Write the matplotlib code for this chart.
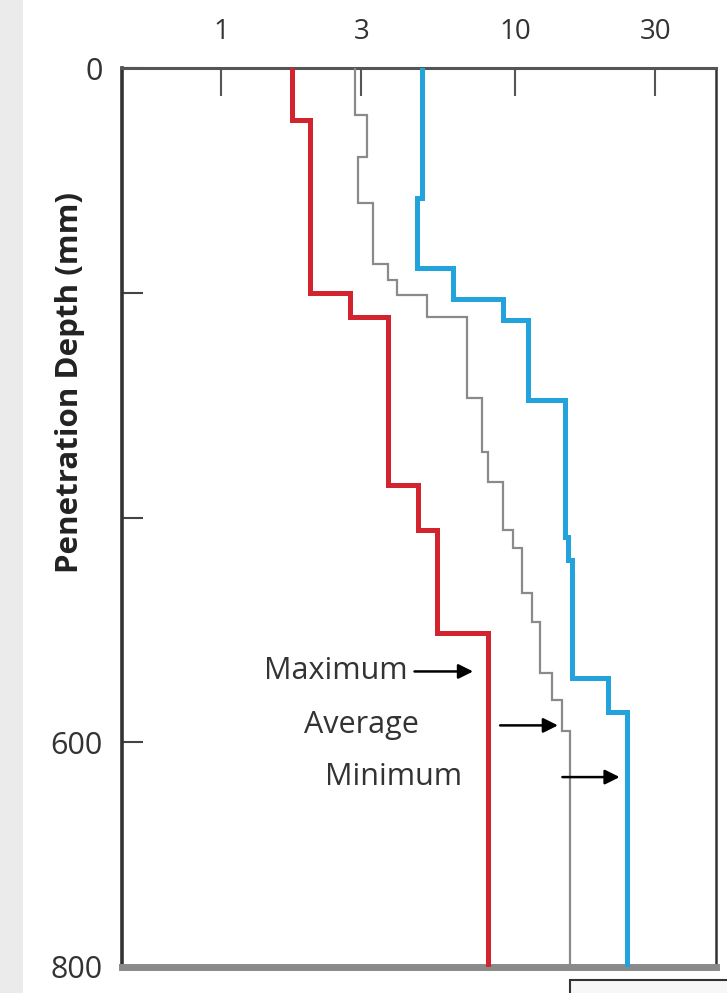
import numpy as np
import matplotlib
matplotlib.use("Agg")
import matplotlib.pyplot as plt
from matplotlib.patches import Rectangle

plt.rcParams['font.family'] = ['Open Sans', 'DejaVu Sans']

# depth boundaries (mm) and value in each depth interval
max_depth = [0, 46, 200, 222, 371, 411, 503, 800]
max_val = [1.74, 2.01, 2.75, 3.70, 4.68, 5.43, 8.09]

avg_depth = [0, 42, 79, 120, 174, 189, 202, 222, 294, 342, 368, 411, 427,
             467, 493, 538, 562, 590, 800]
avg_val = [2.86, 3.14, 2.92, 3.29, 3.70, 3.97, 5.02, 6.87, 7.72, 8.09, 9.10,
           9.85, 10.6, 11.4, 12.2, 13.4, 14.4, 15.4]

min_depth = [0, 116, 178, 206, 224, 295, 417, 438, 543, 573, 800]
min_val = [4.83, 4.64, 6.15, 9.10, 11.1, 14.8, 15.1, 15.6, 20.7, 24.0]

x_ticks = [1, 3, 10, 30]
y_ticks = [0, 200, 400, 600, 800]
y_ticklabels = ["0", "", "", "600", "800"]


def steps(depth, val):
    depth = np.asarray(depth)
    x = np.repeat(val, 2)
    y = np.column_stack([depth[:-1], depth[1:]]).ravel()
    return x, y


fig = plt.figure(figsize=(7.27, 9.93), dpi=100)
# screenshot leftovers: grey strip at left and a box at bottom right
fig.patches.append(Rectangle((0, 0), 23 / 727, 1, transform=fig.transFigure,
                             facecolor='#ebebeb', edgecolor='none', zorder=0))
fig.patches.append(Rectangle((570 / 727, -0.05), 0.3, 0.05 + 13 / 993,
                             transform=fig.transFigure, facecolor='#f7f7f7',
                             edgecolor='#333333', linewidth=1.5, zorder=0))

ax = fig.add_axes([122 / 727, 1 - 967 / 993, 594 / 727, 899 / 993])

x, y = steps(max_depth, max_val)
ax.plot(x, y, color='#d1242f', lw=3.6, solid_joinstyle='miter', zorder=3)
x, y = steps(avg_depth, avg_val)
ax.plot(x, y, color='#8a8a8a', lw=1.6, solid_joinstyle='miter', zorder=3)
x, y = steps(min_depth, min_val)
ax.plot(x, y, color='#22a3dc', lw=3.6, solid_joinstyle='miter', zorder=3)

ax.set_xscale('log')
ax.set_xlim(0.46, 48.3)
ax.set_ylim(800, 0)
ax.set_xticks(x_ticks)
ax.set_xticklabels([str(t) for t in x_ticks])
ax.minorticks_off()
ax.set_yticks(y_ticks)
ax.set_yticklabels(y_ticklabels)

ax.xaxis.tick_top()
ax.tick_params(axis='x', direction='in', length=20, width=1.5, color='#555555',
               labelsize=20, labelcolor='#333333', pad=16, top=True, bottom=False)
ax.tick_params(axis='y', direction='in', length=15, width=1.5, color='#444444',
               labelsize=22, labelcolor='#333333', pad=14)

ax.spines['top'].set_color('#555555')
ax.spines['top'].set_linewidth(2.2)
ax.spines['left'].set_color('#333333')
ax.spines['left'].set_linewidth(2.6)
ax.spines['right'].set_color('#333333')
ax.spines['right'].set_linewidth(1.8)
ax.spines['bottom'].set_color('#8a8a8a')
ax.spines['bottom'].set_linewidth(5)

ax.set_ylabel('Penetration Depth (mm)', fontsize=22.5, fontweight='bold',
              color='#222222')
ax.yaxis.set_label_coords(-0.062, 0.65)

arrow = dict(arrowstyle='-|>', color='black', lw=1.8, mutation_scale=22,
             shrinkA=0, shrinkB=0)
labels = [("Maximum", 4.3, 537, 4.55, 7.2),
          ("Average", 4.7, 585, 8.9, 14.0),
          ("Minimum", 6.6, 631, 14.5, 22.7)]
for name, tx, ty, x0, x1 in labels:
    ax.text(tx, ty, name, ha='right', va='center', fontsize=22, color='#333333')
    ax.annotate('', xy=(x1, ty), xytext=(x0, ty), arrowprops=arrow)

fig.savefig('out.png', dpi=100)
